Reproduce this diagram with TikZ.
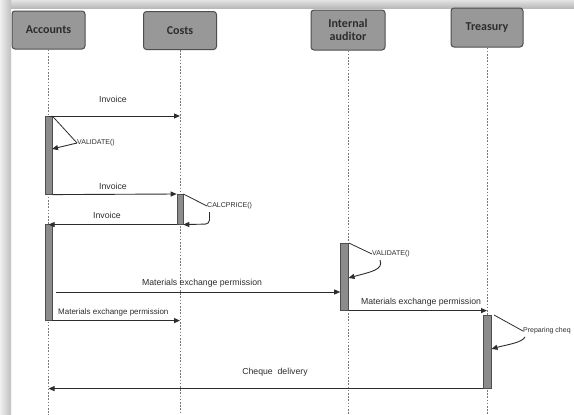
\documentclass[tikz,border=0pt]{standalone}
\usepackage{fontspec}
\setmainfont{Liberation Sans}
\newfontfamily\headfont{Carlito}
\usetikzlibrary{arrows.meta}

\definecolor{boxfill}{RGB}{152,152,152}
\definecolor{boxedge}{RGB}{78,78,78}
\definecolor{barfill}{RGB}{140,140,140}
\definecolor{ink}{RGB}{45,45,45}
\definecolor{lifegray}{RGB}{120,120,120}

\tikzset{
  actor/.style={draw=boxedge, fill=boxfill, line width=1pt, rounded corners=3pt,
    minimum width=73pt, minimum height=38pt, inner sep=1pt, align=center,
    text=ink, font=\headfont\bfseries\fontsize{12}{12.5}\selectfont},
  lifeline/.style={draw=lifegray, line width=0.9pt, dash pattern=on 1.6pt off 1.6pt},
  activation/.style={draw=boxedge, fill=barfill, line width=0.6pt, inner sep=0pt,
    minimum width=7pt, anchor=north},
  msg/.style={draw=ink, line width=0.9pt, -{Triangle[length=6pt,width=5pt]}},
  callline/.style={draw=ink, line width=0.8pt},
  biglabel/.style={text=ink, inner sep=0pt, font=\fontsize{8.7}{10}\selectfont},
  smalllabel/.style={text=ink, inner sep=0pt, font=\fontsize{7}{8}\selectfont},
}

\begin{document}
\begin{tikzpicture}[x=1pt, y=-1pt]
  % page and frame shadow
  \useasboundingbox (0,0) rectangle (574,415);
  \fill[white] (0,0) rectangle (574,415);
  \shade[top color=gray!22, bottom color=gray!55] (0,0) rectangle (574,8);
  \shade[left color=gray!12, right color=gray!50] (0,0) rectangle (11,415);
  \coordinate (bottom) at (0,415);

  % participants
  \node[actor] (accounts) at (48.5,30) {Accounts};
  \node[actor] (costs)    at (180,30.5) {Costs};
  \node[actor, minimum width=74pt, minimum height=40pt] (auditor) at (348,30) {Internal\\auditor};
  \node[actor, minimum width=72pt, minimum height=39pt] (treasury) at (487,27.5) {Treasury};

  % lifelines
  \foreach \p in {accounts,costs,auditor,treasury}
    \draw[lifeline] (\p.south) -- (\p.south |- bottom);

  % activation bars
  \node[activation, minimum height=78pt] (acc1) at (48.5,116) {};
  \node[activation, minimum height=96pt] (acc2) at (48.5,224) {};
  \node[activation, minimum width=6pt, minimum height=30pt] (cst) at (180,194) {};
  \node[activation, minimum width=8pt, minimum height=67pt] (aud) at (344.5,243) {};
  \node[activation, minimum width=8pt, minimum height=73pt] (trs) at (487,315) {};

  % Invoice: Accounts -> Costs
  \draw[msg] (acc1.north) -- (acc1.north -| costs);
  \node[biglabel] (l1) at (113,99) {Invoice};

  % Accounts self call
  \node[smalllabel, anchor=west] (val1) at (77,143) {VALIDATE()};
  \coordinate (val1ret) at (52,149);
  \draw[callline] (acc1.north east) -- (val1.west);
  \draw[msg] (val1.west) -- (val1ret);

  % Invoice: Accounts -> Costs (second)
  \draw[msg] (acc1.south east) -- (cst.north west);
  \node[biglabel] (l2) at (113,186) {Invoice};

  % Costs self call
  \node[smalllabel, anchor=west] (calc) at (207,206) {CALCPRICE()};
  \coordinate (calcret) at (209.5,212);
  \draw[callline] (cst.north east) -- (calc.west);
  \draw[msg, rounded corners=4pt] (calcret) -- (209.5,224) -- (cst.south east);

  % Invoice: Costs -> Accounts
  \draw[msg] (cst.south west) -- (cst.south west -| accounts);
  \node[biglabel] (l3) at (107,215) {Invoice};

  % Internal auditor self call
  \node[smalllabel, anchor=west] (val2) at (372,254) {VALIDATE()};
  \coordinate (val2from) at (380,260);
  \coordinate (val2ret) at (348.5,278);
  \draw[callline] (aud.north east) -- (val2.west);
  \draw[msg] (val2from) .. controls (384,270) and (370,272) .. (val2ret);

  % Materials exchange permission: Accounts -> Internal auditor
  \coordinate (m4) at (56,292);
  \draw[msg] (m4) -- (m4 -| aud.west);
  \node[biglabel] (l4) at (202,283) {Materials exchange permission};

  % Materials exchange permission: Internal auditor -> Treasury
  \draw[msg] (aud.south east) -- (aud.south east -| treasury);
  \node[biglabel] (l5) at (421,302) {Materials exchange permission};

  % Materials exchange permission: Accounts -> Costs
  \draw[msg] (acc2.south east) -- (acc2.south east -| costs);
  \node[smalllabel, font=\fontsize{8}{9}\selectfont, anchor=west] (l6) at (58,312) {Materials exchange permission};

  % Treasury self call
  \node[smalllabel, anchor=west] (prep) at (523,331) {Preparing cheq};
  \coordinate (prepfrom) at (494,315);
  \coordinate (prepback) at (525,337);
  \coordinate (prepret) at (491.5,349);
  \draw[callline] (prepfrom) -- (prep.west);
  \draw[msg] (prepback) .. controls (522,343) and (505,345) .. (prepret);

  % Cheque delivery: Treasury -> Accounts
  \draw[msg] (trs.south west) -- (trs.south west -| accounts);
  \node[biglabel] (l7) at (275,372) {Cheque\ \ delivery};
\end{tikzpicture}
\end{document}
